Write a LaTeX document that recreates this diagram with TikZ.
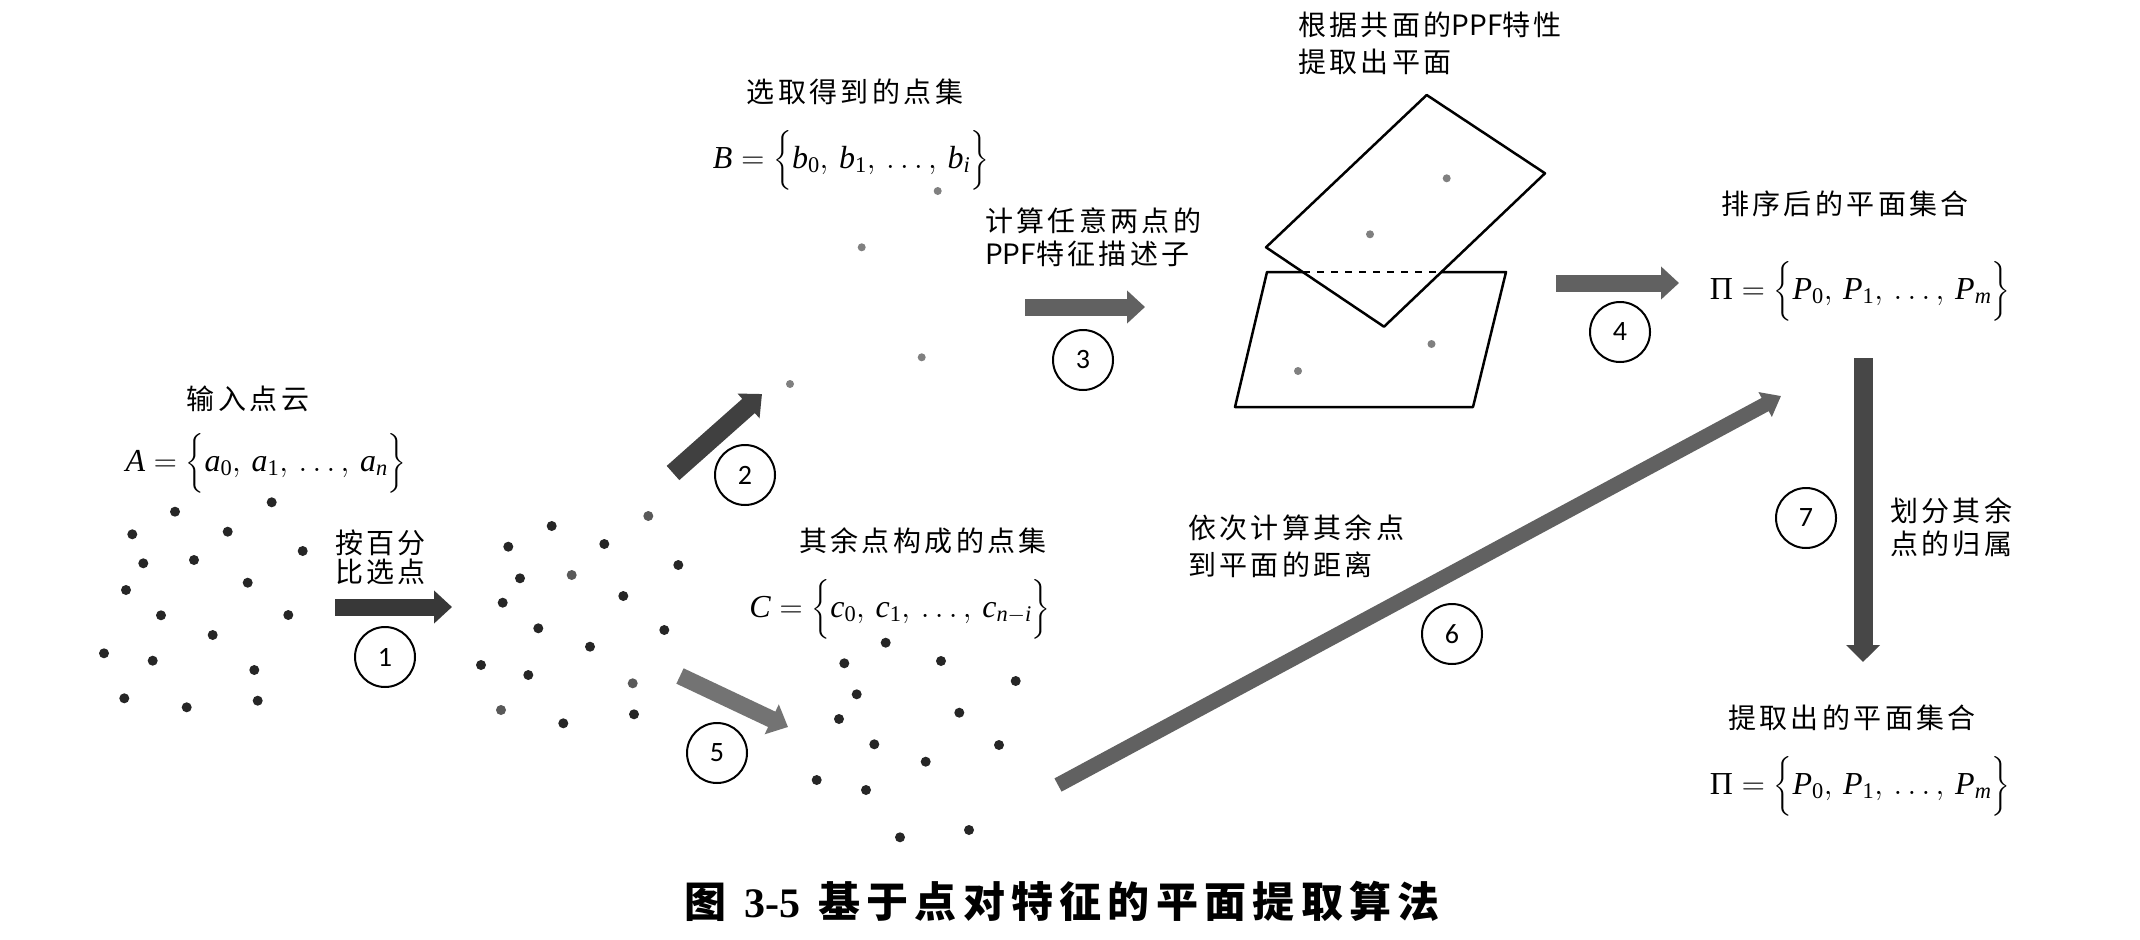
\IfFileExists{fix-cm.sty}{\RequirePackage{fix-cm}}{}
\documentclass[tikz,border=0pt]{standalone}
\usepackage{amsmath}
\usepackage{fontspec}
\usetikzlibrary{arrows.meta}
\newfontfamily\cjk[LetterSpace=12]{Noto Sans CJK SC}
\newfontfamily\cjkn{Noto Sans CJK SC}
\newfontfamily\cjkcap[LetterSpace=15]{Noto Sans CJK SC}
\newfontfamily\numfont{Carlito}
\newfontfamily\serifb{Liberation Serif}
\newcommand{\ppf}{{\cjkn PPF}}
\newcommand{\tv}[1]{\text{\serifb\itshape #1}}
\newcommand{\tn}[1]{\text{\serifb #1}}
\tikzset{
  dotdark/.style={fill=black!85},
  dotgray/.style={fill=black!50},
  circnum/.style={circle, draw, line width=2pt, minimum size=60pt, inner sep=0pt,
    font=\numfont\fontsize{28}{28}\selectfont},
  lbl/.style={font=\cjk\fontsize{28}{33}\selectfont, inner sep=0pt},
  setm/.style={font=\fontsize{32}{38}\selectfont, inner sep=0pt},
  blockarrow/.style={line width=17pt, draw=black!68, -{Triangle[length=18pt, width=32pt]}},
  plane/.style={line width=2.5pt, line join=round},
}
\begin{document}
\begin{tikzpicture}[x=1pt, y=-1pt]
\fill[white] (0,0) rectangle (2140,939);
\useasboundingbox (0,0) rectangle (2140,939);

% ---------- point clouds ----------
\foreach \p in {(271.7,502.3),(175,511.7),(132.3,534.3),(227.7,531.7),(302.7,551),(143.3,563.3),(194,560),(247.7,582.7),(126,590),(161,615.3),(288.3,615),(212.7,635),(104,653.3),(152.7,660.7),(254.3,670),(124.3,698.3),(186.7,707.3),(257.7,700.7)}
  \fill[dotdark] \p circle[radius=5pt];
\foreach \p in {(551.7,526),(508.3,546.7),(604.3,544),(678.3,565),(520,578.3),(623.3,596),(502.7,602.7),(538.3,628.3),(664.3,630),(590,646.7),(481,665),(528.3,675),(563.3,723.3),(634,714.3)}
  \fill[dotdark] \p circle[radius=5pt];
\foreach \p in {(648.3,516),(571.7,575),(632.7,683.3),(501,710)}
  \fill[black!65] \p circle[radius=5pt];
\foreach \p in {(885.7,642.7),(844.3,663.3),(941,661),(1015.7,681),(856.7,694.3),(959.3,712.7),(839,719),(874.3,744.3),(999,745),(925.7,761.7),(816.7,780),(866,790),(900,837.3),(969,830)}
  \fill[dotdark] \p circle[radius=5pt];
\foreach \p in {(937.7,191),(861.7,247.3),(921.7,357.3),(790,384)}
  \fill[dotgray] \p circle[radius=4pt];

% ---------- planes ----------
\draw[plane] (1303,272) -- (1267,272) -- (1235,407) -- (1473,407) -- (1506,272) -- (1441,272);
\draw[line width=1.5pt, dash pattern=on 7pt off 7pt] (1303,272) -- (1441,272);
\draw[plane] (1426.7,95) -- (1545,173.3) -- (1384,326.7) -- (1266,247.3) -- cycle;
\foreach \p in {(1446.7,178.3),(1370,234.3),(1431.5,344),(1298,371)}
  \fill[dotgray] \p circle[radius=4pt];

% ---------- labels ----------
\node[lbl] (tA) at (248,399) {输入点云};
\node[setm] (sA) at (266,463) {$\tv{A}=\Bigl\{\tv{a}_{\tn{0}},\,\tv{a}_{\tn{1}},\,\ldots,\,\tv{a}_{\tv{n}}\Bigr\}$};
\node[lbl, align=left, anchor=west, font=\cjk\fontsize{28}{29}\selectfont] (t1) at (335,557) {按百分\\比选点};
\node[lbl] (tB) at (855,92) {选取得到的点集};
\node[setm] (sB) at (851,160) {$\tv{B}=\Bigl\{\tv{b}_{\tn{0}},\,\tv{b}_{\tn{1}},\,\ldots,\,\tv{b}_{\tv{i}}\Bigr\}$};
\node[lbl, align=left, anchor=west] (t3) at (985,237) {计算任意两点的\\\ppf 特征描述子};
\node[lbl, align=left, anchor=west, font=\cjk\fontsize{28}{37}\selectfont] (tP) at (1298,43) {根据共面的\ppf 特性\\提取出平面};
\node[lbl] (tS) at (1845,204) {排序后的平面集合};
\node[setm] (sP) at (1860,291) {$\tn{Π}=\Bigl\{\tv{P}_{\tn{0}},\,\tv{P}_{\tn{1}},\,\ldots,\,\tv{P}_{\tv{m}}\Bigr\}$};
\node[lbl] (tC) at (923,541) {其余点构成的点集};
\node[setm] (sC) at (900,609) {$\tv{C}=\Bigl\{\tv{c}_{\tn{0}},\,\tv{c}_{\tn{1}},\,\ldots,\,\tv{c}_{\tv{n}-\tv{i}}\Bigr\}$};
\node[lbl, align=left, anchor=west, font=\cjk\fontsize{28}{37}\selectfont] (t6) at (1188,546) {依次计算其余点\\到平面的距离};
\node[lbl, align=left, anchor=west] (t7) at (1890,527) {划分其余\\点的归属};
\node[lbl] (tE) at (1852,718) {提取出的平面集合};
\node[setm] (sE) at (1860,786) {$\tn{Π}=\Bigl\{\tv{P}_{\tn{0}},\,\tv{P}_{\tn{1}},\,\ldots,\,\tv{P}_{\tv{m}}\Bigr\}$};
\node[inner sep=0pt, font=\cjkcap\bfseries\fontsize{42}{42}\selectfont] (cap) at (1062,901)
  {图\hspace{18pt}{\serifb\bfseries 3-5}\hspace{18pt}基于点对特征的平面提取算法};

% ---------- circled numbers ----------
\node[circnum] (c1) at (385,657) {1};
\node[circnum] (c2) at (745,475) {2};
\node[circnum] (c3) at (1083,360) {3};
\node[circnum] (c4) at (1620,332) {4};
\node[circnum] (c5) at (717,753) {5};
\node[circnum] (c6) at (1452,634) {6};
\node[circnum] (c7) at (1806,518) {7};

% ---------- arrows ----------
\coordinate (a1s) at (335,607);  \coordinate (a1e) at (452,607);
\coordinate (a2s) at (673,473);  \coordinate (a2e) at (762,394);
\coordinate (a3s) at (1025,307); \coordinate (a3e) at (1145,307);
\coordinate (a4s) at (1556,283); \coordinate (a4e) at (1679,283);
\coordinate (a5s) at (680,676);  \coordinate (a5e) at (788,727);
\coordinate (a6s) at (1058,785); \coordinate (a6e) at (1781,396);
\coordinate (a7s) at (1863,358); \coordinate (a7e) at (1863,662);

\draw[blockarrow, draw=black!78] (a1s) -- (a1e);
\draw[blockarrow, draw=black!75, line width=19pt] (a2s) -- (a2e);
\draw[blockarrow, draw=black!62] (a3s) -- (a3e);
\draw[blockarrow, draw=black!62] (a4s) -- (a4e);
\draw[blockarrow, draw=black!55] (a5s) -- (a5e);
\draw[blockarrow, draw=black!62, line width=15pt, -{Triangle[length=18pt, width=27pt]}] (a6s) -- (a6e);
\draw[blockarrow, draw=black!72, line width=19pt, -{Triangle[length=17pt, width=33pt]}] (a7s) -- (a7e);
\end{tikzpicture}
\end{document}
